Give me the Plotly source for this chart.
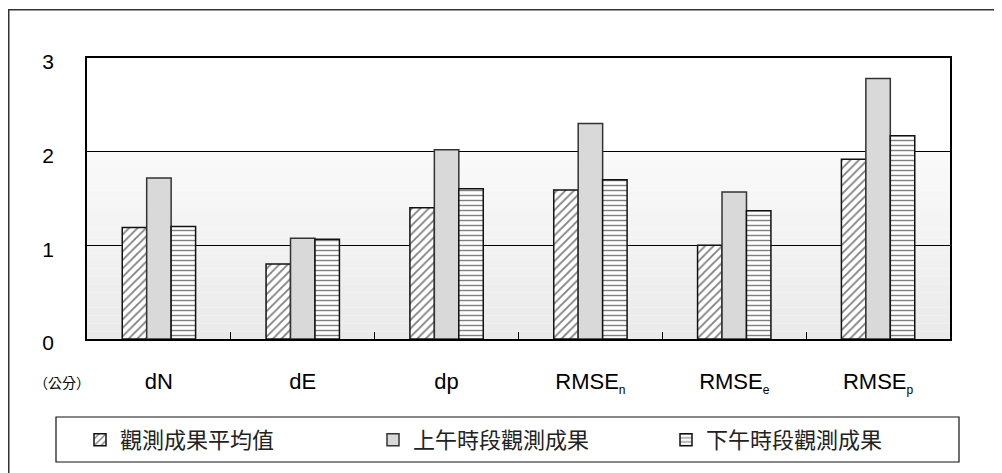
import plotly.graph_objects as go

# ---- data ----
categories = ["dN", "dE", "dp", "RMSEn", "RMSEe", "RMSEp"]
tick_labels = [
    "dN", "dE", "dp",
    "RMSE<sub><span style='font-size:12px'>n</span></sub>",
    "RMSE<sub><span style='font-size:12px'>e</span></sub>",
    "RMSE<sub><span style='font-size:12px'>p</span></sub>",
]
series_names = ["觀測成果平均值", "上午時段觀測成果", "下午時段觀測成果"]
mean_vals = [1.19, 0.80, 1.40, 1.59, 1.00, 1.92]
am_vals = [1.72, 1.075, 2.02, 2.30, 1.57, 2.78]
pm_vals = [1.20, 1.065, 1.605, 1.70, 1.37, 2.17]
y_ticks = [0, 1, 2, 3]
unit_label = "（公分）"

# ---- layout geometry (page has an 8px body offset) ----
OFF = 8
W, H = 1002 - OFF, 473 - OFF
L = 87 - OFF
T = 58 - OFF
R = W - (950 - OFF)
B = H - (339 - OFF)
pw, ph = W - L - R, H - T - B
plot_bottom = H - B


def px(xp):  # reference x pixel -> paper x
    return (xp - OFF - L) / pw


def py(yp):  # reference y pixel -> paper y
    return (plot_bottom - (yp - OFF)) / ph


fig = go.Figure()
line = dict(color="#111", width=1.5)
fig.add_trace(go.Bar(
    x=categories, y=mean_vals, name=series_names[0],
    marker=dict(color="white", line=line,
                pattern=dict(shape="/", fgcolor="#000", bgcolor="white", size=6, solidity=0.3)),
))
fig.add_trace(go.Bar(
    x=categories, y=am_vals, name=series_names[1],
    marker=dict(color="#d9d9d9", line=dict(color="#333", width=1.5)),
))
fig.add_trace(go.Bar(
    x=categories, y=pm_vals, name=series_names[2],
    marker=dict(color="white", line=line,
                pattern=dict(shape="-", fgcolor="#000", bgcolor="white", size=5, solidity=0.28)),
))

# background gradient (0 -> 2), white above
shapes = []
nb = 24
c_top, c_bot = 250, 234
for i in range(nb):
    y0 = 2 * i / nb
    y1 = 2 * (i + 1) / nb
    c = round(c_bot + (c_top - c_bot) * (i + 0.5) / nb)
    shapes.append(dict(type="rect", xref="paper", yref="y", x0=0, x1=1, y0=y0, y1=y1,
                       fillcolor=f"rgb({c},{c},{c})", line=dict(width=0), layer="below"))
# outer frame (left and top edges visible)
shapes.append(dict(type="rect", xref="paper", yref="paper",
                   x0=px(8.75), x1=px(1040), y0=py(520), y1=py(9.75),
                   line=dict(color="#333", width=1.5), fillcolor="rgba(0,0,0,0)", layer="above"))
# legend frame
shapes.append(dict(type="rect", xref="paper", yref="paper",
                   x0=px(56), x1=px(959), y0=py(462), y1=py(417),
                   line=dict(color="#111", width=1.2), fillcolor="rgba(0,0,0,0)", layer="above"))

fig.update_layout(
    width=W, height=H,
    margin=dict(l=L, r=R, t=T, b=B, autoexpand=False),
    paper_bgcolor="white", plot_bgcolor="white",
    barmode="group", bargap=0.49, bargroupgap=0,
    font=dict(family="Liberation Sans, Arial", color="black"),
    shapes=shapes,
    showlegend=True,
    legend=dict(
        orientation="h", x=px(80), xanchor="left",
        y=py(440), yanchor="middle",
        borderwidth=0, bgcolor="rgba(0,0,0,0)",
        font=dict(family="Noto Sans CJK TC", size=22, color="#222"),
        entrywidth=248, entrywidthmode="pixels", traceorder="normal",
    ),
    annotations=[dict(
        text=unit_label, xref="paper", yref="paper",
        x=px(62), y=py(382), xanchor="center", yanchor="middle",
        showarrow=False, font=dict(family="Noto Sans CJK TC", size=14, color="black"),
    )],
)
fig.update_xaxes(
    type="category", tickvals=categories, ticktext=tick_labels,
    tickson="boundaries", ticks="inside", ticklen=7, tickcolor="black", tickwidth=1,
    showline=True, linecolor="black", linewidth=1.5, mirror=True,
    showgrid=False, ticklabelstandoff=22,
    tickfont=dict(size=22, family="Liberation Sans, Arial"),
)
fig.update_yaxes(
    range=[0, 3], tickvals=y_ticks, ticks="",
    showline=True, linecolor="black", linewidth=1.5, mirror=True,
    showgrid=True, gridcolor="black", gridwidth=1, zeroline=False,
    ticklabelstandoff=27, ticklabelshift=4,
    tickfont=dict(size=21, family="Liberation Sans, Arial"),
)

fig.write_html("out.html")
